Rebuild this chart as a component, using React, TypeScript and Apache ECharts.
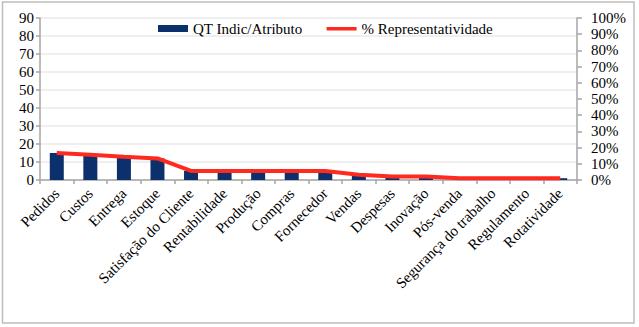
import React, { useEffect, useRef } from "react";
import * as echarts from "echarts";

const categories = [
  "Pedidos", "Custos", "Entrega", "Estoque", "Satisfação do Cliente", "Rentabilidade",
  "Produção", "Compras", "Fornecedor", "Vendas", "Despesas", "Inovação",
  "Pós-venda", "Segurança do trabalho", "Regulamento", "Rotatividade",
];
const qtValues = [15, 14, 13, 12, 5, 5, 5, 5, 5, 3, 2, 2, 1, 1, 1, 1];
const pctValues = [0.167, 0.156, 0.144, 0.133, 0.056, 0.056, 0.056, 0.056, 0.056, 0.033, 0.022, 0.022, 0.011, 0.011, 0.011, 0.011];
const leftTicks = { min: 0, max: 90, interval: 10 };
const rightTicks = { min: 0, max: 1, interval: 0.1 };

const FONT = "Times New Roman, Liberation Serif, serif";
const lineIcon = "path://M0,0H0.01V0.01H0Z M0,2H30V5.5H0Z M0,6.99H0.01V7H0Z";

export default function App() {
  const ref = useRef<HTMLDivElement>(null);
  useEffect(() => {
    document.body.style.margin = "0";
    const chart = echarts.init(ref.current!, null, { renderer: "svg" });
    const labelStyle = { fontFamily: FONT, fontSize: 15, color: "#000" };
    chart.setOption({
      animation: false,
      backgroundColor: "#ffffff",
      textStyle: { fontFamily: FONT, color: "#000" },
      graphic: [
        {
          type: "rect",
          shape: { x: 2.5, y: 2, width: 631.5, height: 321 },
          style: { fill: "none", stroke: "#bdbdbd", lineWidth: 1.5 },
          silent: true,
        },
      ],
      legend: {
        left: 153,
        top: 16,
        itemWidth: 30,
        itemHeight: 7,
        itemGap: 24,
        textStyle: { ...labelStyle },
        data: [
          { name: "QT Indic/Atributo", icon: "rect" },
          { name: "% Representatividade", icon: lineIcon, itemStyle: { color: "#ff2a1f" } },
        ],
      },
      grid: { left: 40, right: 62, top: 18, bottom: 147, containLabel: false },
      xAxis: {
        type: "category",
        data: categories,
        boundaryGap: true,
        axisLine: { lineStyle: { color: "#a6a6a6", width: 1.5 } },
        axisTick: { show: true, length: 4, lineStyle: { color: "#a6a6a6", width: 1.5 }, alignWithLabel: false },
        axisLabel: { ...labelStyle, interval: 0, rotate: 45, margin: 11 },
      },
      yAxis: [
        {
          type: "value",
          min: leftTicks.min,
          max: leftTicks.max,
          interval: leftTicks.interval,
          axisLine: { show: true, lineStyle: { color: "#a6a6a6", width: 1.5 } },
          axisTick: { show: true, length: 4, lineStyle: { color: "#a6a6a6", width: 1.5 } },
          splitLine: { show: true, lineStyle: { color: "#efefef", width: 2 } },
          axisLabel: { ...labelStyle, margin: 6 },
        },
        {
          type: "value",
          min: rightTicks.min,
          max: rightTicks.max,
          interval: rightTicks.interval,
          position: "right",
          axisLine: { show: true, lineStyle: { color: "#a6a6a6", width: 1.5 } },
          axisTick: { show: true, length: 5, lineStyle: { color: "#a6a6a6", width: 1.5 } },
          splitLine: { show: false },
          axisLabel: {
            ...labelStyle,
            margin: 14,
            formatter: (v: number) => `${Math.round(v * 100)}%`,
          },
        },
      ],
      series: [
        {
          name: "QT Indic/Atributo",
          type: "bar",
          yAxisIndex: 0,
          data: qtValues,
          barWidth: 14,
          itemStyle: { color: "#0b306b" },
        },
        {
          name: "% Representatividade",
          type: "line",
          yAxisIndex: 1,
          data: pctValues,
          symbol: "none",
          lineStyle: { color: "#ff2a1f", width: 4 },
          itemStyle: { color: "#ff2a1f" },
          z: 5,
        },
      ],
    });
    return () => chart.dispose();
  }, []);
  return <div ref={ref} style={{ width: 639, height: 327, position: "absolute", left: 0, top: 0 }} />;
}
